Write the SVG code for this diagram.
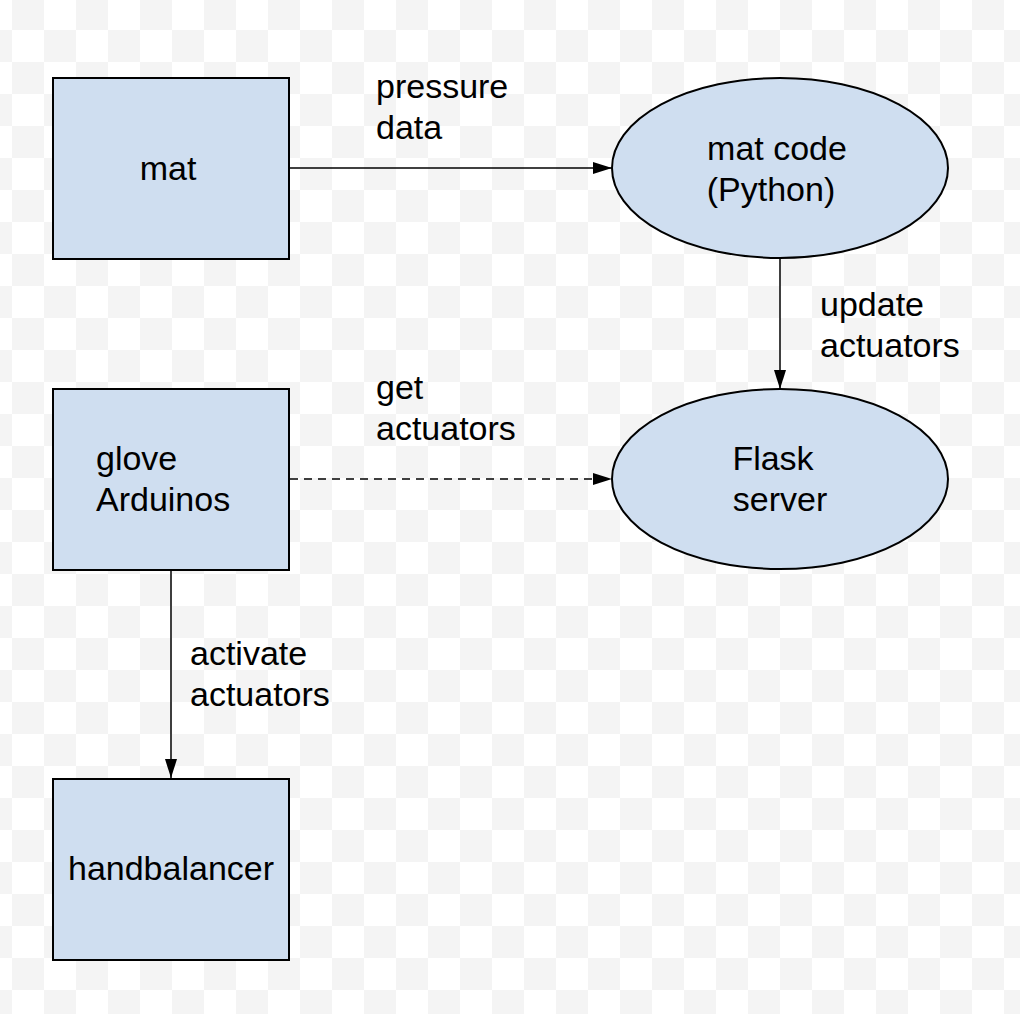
<svg xmlns="http://www.w3.org/2000/svg" width="1020" height="1014" viewBox="0 0 1020 1014">
<defs>
<pattern id="checker" x="12" y="30" width="64" height="64" patternUnits="userSpaceOnUse">
<rect width="64" height="64" fill="#ffffff"/>
<rect x="32" y="0" width="32" height="32" fill="#f4f4f4"/>
<rect x="0" y="32" width="32" height="32" fill="#f4f4f4"/>
</pattern>
<marker id="arrow" viewBox="0 0 19 12" refX="19" refY="6" markerWidth="19" markerHeight="12" markerUnits="userSpaceOnUse" orient="auto">
<path d="M0,0 L19,6 L0,12 Z" fill="#000"/>
</marker>
<style>
.node{fill:#cfdef0;stroke:#000;stroke-width:2}
.conn{stroke:#000;stroke-width:1.5;fill:none;marker-end:url(#arrow)}
.dash{stroke-dasharray:8 6}
text{font-family:"Liberation Sans",Arial,sans-serif;font-size:34px;fill:#000}
.c{text-anchor:middle}
</style>
</defs>
<rect width="1020" height="1014" fill="url(#checker)"/>
<g id="connectors">
<line class="conn" x1="290" y1="168" x2="612" y2="168"/>
<line class="conn" x1="780" y1="258" x2="780" y2="389"/>
<line class="conn dash" x1="290" y1="479" x2="612" y2="479"/>
<line class="conn" x1="171" y1="571" x2="171" y2="778"/>
<text x="376" y="98">pressure</text>
<text x="376" y="139">data</text>
<text x="820" y="316">update</text>
<text x="820" y="357">actuators</text>
<text x="376" y="399">get</text>
<text x="376" y="440">actuators</text>
<text x="190" y="665">activate</text>
<text x="190" y="706">actuators</text>
</g>
<g id="mat">
<rect class="node" x="53" y="78" width="236" height="181"/>
<text class="c" x="168" y="180">mat</text>
</g>
<g id="matcode">
<ellipse class="node" cx="780" cy="168" rx="168" ry="90"/>
<text class="c" x="777" y="160">mat code</text>
<text class="c" x="771" y="201">(Python)</text>
</g>
<g id="glove">
<rect class="node" x="53" y="389" width="236" height="181"/>
<text x="96" y="470">glove</text>
<text x="96" y="511">Arduinos</text>
</g>
<g id="flask">
<ellipse class="node" cx="780" cy="479" rx="168" ry="90"/>
<text class="c" x="773" y="470">Flask</text>
<text class="c" x="780" y="511">server</text>
</g>
<g id="handbalancer">
<rect class="node" x="53" y="779" width="236" height="181"/>
<text class="c" x="171" y="880">handbalancer</text>
</g>
</svg>
